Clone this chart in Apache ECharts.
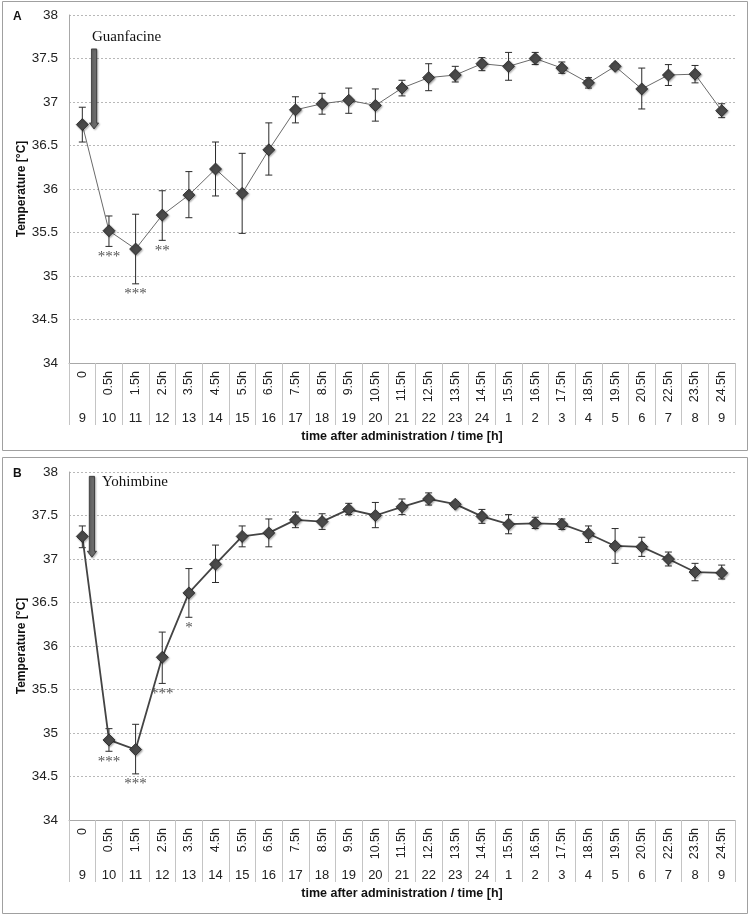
<!DOCTYPE html>
<html><head><meta charset="utf-8">
<script src="https://cdn.jsdelivr.net/npm/echarts@6/dist/echarts.min.js"></script>
<style>html,body{margin:0;padding:0;background:#fff}#c{width:750px;height:916px}</style>
</head><body><div id="c"></div>
<script>
const timeLabels = ['0','0.5h','1.5h','2.5h','3.5h','4.5h','5.5h','6.5h','7.5h','8.5h','9.5h','10.5h','11.5h','12.5h','13.5h','14.5h','15.5h','16.5h','17.5h','18.5h','19.5h','20.5h','22.5h','23.5h','24.5h'];
const clockLabels = ['9','10','11','12','13','14','15','16','17','18','19','20','21','22','23','24','1','2','3','4','5','6','7','8','9'];
const yTicks = [34, 38, 0.5]; // min, max, interval

// Panel A: Guanfacine
const guanMean = [36.74,35.52,35.31,35.70,35.93,36.23,35.95,36.45,36.91,36.98,37.02,36.96,37.16,37.28,37.31,37.44,37.41,37.50,37.39,37.22,37.41,37.15,37.31,37.32,36.90];
const guanHigh = [36.94,35.69,35.71,35.98,36.20,36.54,36.41,36.76,37.06,37.10,37.16,37.15,37.25,37.44,37.41,37.51,37.57,37.57,37.46,37.28,37.44,37.39,37.43,37.42,36.98];
const guanLow  = [36.54,35.34,34.91,35.41,35.67,35.92,35.49,36.16,36.76,36.86,36.87,36.78,37.07,37.13,37.23,37.36,37.25,37.43,37.33,37.16,37.38,36.92,37.19,37.22,36.82];
const guanSig  = ['','***','***','**','','','','','','','','','','','','','','','','','','','','',''];

// Panel B: Yohimbine
const yohMean = [37.26,34.92,34.81,35.87,36.61,36.94,37.26,37.30,37.45,37.43,37.57,37.50,37.60,37.69,37.63,37.49,37.40,37.41,37.40,37.29,37.15,37.14,37.00,36.85,36.84];
const yohHigh = [37.38,35.05,35.10,36.16,36.89,37.16,37.38,37.46,37.54,37.52,37.64,37.65,37.69,37.76,37.66,37.57,37.51,37.48,37.46,37.38,37.35,37.25,37.08,36.95,36.93];
const yohLow  = [37.13,34.79,34.53,35.57,36.33,36.73,37.14,37.14,37.36,37.34,37.51,37.36,37.51,37.62,37.60,37.41,37.29,37.35,37.34,37.19,36.95,37.03,36.92,36.75,36.77];
const yohSig  = ['','***','***','***','*','','','','','','','','','','','','','','','','','','','',''];

const drugNames = ['Guanfacine','Yohimbine'];
const panelLetters = ['A','B'];

const chart = echarts.init(document.getElementById('c'), null, {renderer:'canvas'});
const grids = [
  {left:69, top:15, width:666, height:348},
  {left:69, top:472, width:666, height:348}
];
const SANS = 'Liberation Sans, Arial, sans-serif';
const SERIF = 'Liberation Serif, Times New Roman, serif';

function xAxes(g){
  return [{
    type:'category', gridIndex:g, data:timeLabels, boundaryGap:true, position:'bottom',
    axisLine:{show:true, lineStyle:{color:'#a8a8a8', width:1}},
    axisTick:{show:true, interval:0, length:62, lineStyle:{color:'#c4c4c4', width:1}},
    axisLabel:{interval:0, rotate:90, margin:8, fontSize:12.5, color:'#222', fontFamily:SANS},
    splitLine:{show:false}
  },{
    type:'category', gridIndex:g, data:clockLabels, boundaryGap:true, position:'bottom',
    axisLine:{show:false}, axisTick:{show:false},
    axisLabel:{interval:0, margin:49, fontSize:13, color:'#222', fontFamily:SANS},
    name:'time after administration / time [h]', nameLocation:'middle', nameGap:67, nameMoveOverlap:false,
    nameTextStyle:{fontWeight:'bold', fontSize:12.5, color:'#111', fontFamily:SANS}
  }];
}
function yAxis(g){
  return {
    type:'value', gridIndex:g, min:yTicks[0], max:yTicks[1], interval:yTicks[2],
    axisLine:{show:true, lineStyle:{color:'#a8a8a8', width:1}},
    axisTick:{show:false},
    axisLabel:{fontSize:13.5, color:'#222', margin:11, fontFamily:SANS},
    splitLine:{show:true, lineStyle:{color:'#b8b8b8', type:[2,2], width:1}},
    name:'Temperature [°C]', nameLocation:'middle', nameGap:41, nameRotate:90, nameMoveOverlap:false,
    nameTextStyle:{fontWeight:'bold', fontSize:12, color:'#111', fontFamily:SANS}
  };
}
function errSeries(g, mean, low, high, sig){
  return {
    type:'custom', xAxisIndex:g*2, yAxisIndex:g, z:2, silent:true,
    data: mean.map((m,i)=>[i, low[i], high[i]]),
    renderItem:(params, api)=>{
      const i = params.dataIndex;
      const lo = api.coord([api.value(0), api.value(1)]);
      const hi = api.coord([api.value(0), api.value(2)]);
      const c = 3.5, st = {stroke:'#2b2b2b', lineWidth:1};
      const ch = [
        {type:'line', shape:{x1:lo[0], y1:hi[1], x2:lo[0], y2:lo[1]}, style:st},
        {type:'line', shape:{x1:lo[0]-c, y1:hi[1], x2:lo[0]+c, y2:hi[1]}, style:st},
        {type:'line', shape:{x1:lo[0]-c, y1:lo[1], x2:lo[0]+c, y2:lo[1]}, style:st}
      ];
      if (sig[i]) ch.push({type:'text', x:lo[0], y:lo[1]+3,
        style:{text:sig[i], align:'center', verticalAlign:'top', font:'15px ' + SERIF, fill:'#555'}});
      return {type:'group', children:ch};
    }
  };
}
function lineSeries(g, mean, lw, lc){
  return {
    type:'line', xAxisIndex:g*2, yAxisIndex:g, data:mean, z:3,
    symbol:'diamond', symbolSize:12, showSymbol:true,
    lineStyle:{color:lc, width:lw},
    itemStyle:{color:'#4a4a4a', borderColor:'#262626', borderWidth:0.8,
      shadowBlur:2, shadowColor:'rgba(0,0,0,0.35)', shadowOffsetX:1, shadowOffsetY:1},
    emphasis:{disabled:true}, animation:false
  };
}

chart.setOption({
  animation:false,
  grid:grids,
  xAxis:[...xAxes(0), ...xAxes(1)],
  yAxis:[yAxis(0), yAxis(1)],
  series:[
    errSeries(0, guanMean, guanLow, guanHigh, guanSig),
    lineSeries(0, guanMean, 1, '#6a6a6a'),
    errSeries(1, yohMean, yohLow, yohHigh, yohSig),
    lineSeries(1, yohMean, 1.8, '#444')
  ]
});

// Annotations (panel frames, letters, drug arrows) placed from axis coordinates
const arrowSpec = [
  {frac:0.44, from:37.61, to:36.69},
  {frac:0.36, from:37.95, to:37.02}
];
const gfx = [];
const frames = [[2,1,746,450],[2,457,746,457]];
frames.forEach(f=>gfx.push({type:'rect', shape:{x:f[0]+0.5,y:f[1]+0.5,width:f[2]-1,height:f[3]-1},
  style:{fill:'none', stroke:'#a0a0a0', lineWidth:1}, z:0}));
[0,1].forEach(g=>{
  const p0 = chart.convertToPixel({xAxisIndex:g*2, yAxisIndex:g}, [0, arrowSpec[g].from]);
  const p1 = chart.convertToPixel({xAxisIndex:g*2, yAxisIndex:g}, [1, arrowSpec[g].to]);
  const x = p0[0] + (p1[0]-p0[0])*arrowSpec[g].frac;
  const yTop = p0[1], yTip = p1[1];
  const sw = 2.6, hw = 4.6, hl = 6;
  gfx.push({type:'polygon', z:10, shape:{points:[
    [x-sw,yTop],[x+sw,yTop],[x+sw,yTip-hl],[x+hw,yTip-hl],[x,yTip],[x-hw,yTip-hl],[x-sw,yTip-hl]]},
    style:{fill:'#6b6b6b', stroke:'#2e2e2e', lineWidth:0.8, shadowBlur:2, shadowColor:'rgba(0,0,0,0.3)', shadowOffsetX:1, shadowOffsetY:1}});
  const gtop = grids[g].top;
  gfx.push({type:'text', z:10, x: g===0 ? x-2 : x+10, y: g===0 ? gtop+22 : gtop+10,
    style:{text:drugNames[g], font:'15px ' + SERIF, fill:'#111', verticalAlign:'middle', align:'left'}});
  gfx.push({type:'text', z:10, x:13, y:gtop+2,
    style:{text:panelLetters[g], font:'bold 12px ' + SANS, fill:'#111', verticalAlign:'middle'}});
});
chart.setOption({graphic:gfx});
</script></body></html>
